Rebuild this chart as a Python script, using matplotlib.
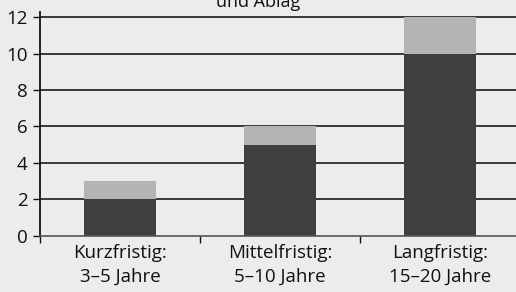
import matplotlib
matplotlib.use("Agg")
import matplotlib.pyplot as plt
import numpy as np

categories = ["Kurzfristig:\n3–5 Jahre", "Mittelfristig:\n5–10 Jahre", "Langfristig:\n15–20 Jahre"]
dark_values = [2, 5, 10]
light_values = [1, 1, 2]
yticks = [0, 2, 4, 6, 8, 10, 12]
title_text = "und Ablag"

plt.rcParams['font.family'] = ['Open Sans', 'DejaVu Sans']
bg = "#ececec"
fig = plt.figure(figsize=(5.16, 2.92), dpi=100, facecolor=bg)
W, H = 516, 292
ax = fig.add_axes([40 / W, (H - 235.7) / H, 480 / W, (235.7 - 12) / H])
ax.set_facecolor(bg)

x = np.arange(len(categories))
ax.set_xlim(-0.5, 2.5)
ax.set_ylim(0, 12.29)
for yv in yticks[1:]:
    ax.axhline(yv, color="#1a1a1a", lw=1.2, zorder=1)
ax.bar(x, dark_values, width=0.45, color="#3f3f41", zorder=2)
ax.bar(x, light_values, bottom=dark_values, width=0.45, color="#b3b4b5", zorder=2)

for s in ["top", "right"]:
    ax.spines[s].set_visible(False)
ax.spines["left"].set_color("#111111")
ax.spines["left"].set_linewidth(1.3)
ax.spines["bottom"].set_color("#555555")
ax.spines["bottom"].set_linewidth(1.2)

ax.set_yticks(yticks)
ax.set_yticklabels([str(v) for v in yticks], fontsize=13.5, color="#111111")
ax.tick_params(axis="y", length=5, width=1, color="#111111", pad=4)
ax.set_xticks(x)
ax.set_xticklabels(categories, fontsize=13.5, linespacing=1.4, color="#111111")
ax.tick_params(axis="x", which="major", length=0, pad=6)
ax.set_xticks([-0.5, 0.5, 1.5, 2.5], minor=True)
ax.tick_params(axis="x", which="minor", length=5, width=1, color="#111111")

fig.text(258 / W, 1.0 + 7 / H, title_text, ha="center", va="top", fontsize=13, color="#111111")

fig.savefig("out.png", dpi=100, facecolor=bg)
